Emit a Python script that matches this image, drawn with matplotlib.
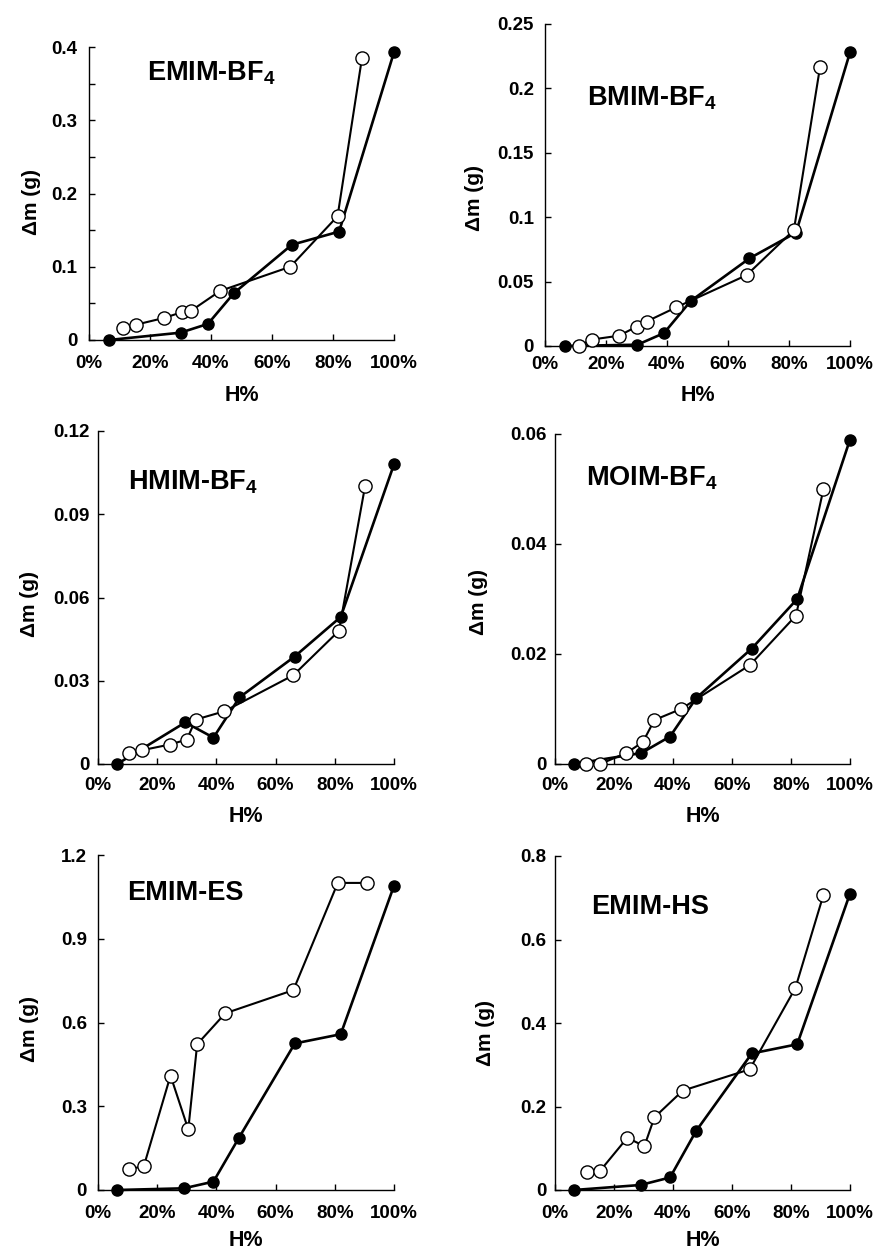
import matplotlib
matplotlib.use('Agg')
import matplotlib.pyplot as plt
from matplotlib.ticker import MultipleLocator

plt.rcParams['font.family'] = ['Liberation Sans', 'DejaVu Sans']
plt.rcParams['font.weight'] = 'bold'
plt.rcParams['mathtext.fontset'] = 'custom'
plt.rcParams['mathtext.bf'] = 'Liberation Sans:bold'
plt.rcParams['mathtext.rm'] = 'Liberation Sans:bold'
plt.rcParams['mathtext.default'] = 'bf'

# ---------------- data ----------------
xtick_vals = [0, 20, 40, 60, 80, 100]
xtick_labels = ['0%', '20%', '40%', '60%', '80%', '100%']
xlabel_text = 'H%'
ylabel_text = '\u0394m (g)'

titles = [r'EMIM-BF$_4$', r'BMIM-BF$_4$', r'HMIM-BF$_4$',
          r'MOIM-BF$_4$', 'EMIM-ES', 'EMIM-HS']

# EMIM-BF4
emim_bf4_filled_h = [6.5, 30, 39, 47.5, 66.5, 82, 100]
emim_bf4_filled_m = [0, 0.010, 0.022, 0.064, 0.130, 0.148, 0.393]
emim_bf4_open_h = [11, 15.5, 24.5, 30.5, 33.5, 43, 66, 81.5, 89.5]
emim_bf4_open_m = [0.016, 0.021, 0.030, 0.038, 0.040, 0.067, 0.100, 0.169, 0.385]

# BMIM-BF4
bmim_bf4_filled_h = [6.5, 30.3, 39, 47.8, 67, 82.3, 100]
bmim_bf4_filled_m = [0, 0.001, 0.010, 0.035, 0.068, 0.088, 0.228]
bmim_bf4_open_h = [11, 15.3, 24.3, 30, 33.3, 43, 66.1, 81.6, 90.2]
bmim_bf4_open_m = [0, 0.005, 0.008, 0.015, 0.019, 0.030, 0.055, 0.090, 0.217]

# HMIM-BF4
hmim_bf4_filled_h = [6.5, 29.5, 39, 47.8, 66.4, 82, 100]
hmim_bf4_filled_m = [0, 0.015, 0.0095, 0.024, 0.0387, 0.053, 0.108]
hmim_bf4_open_h = [10.4, 15, 24.2, 30, 33, 42.7, 66, 81.4, 90.2]
hmim_bf4_open_m = [0.004, 0.005, 0.007, 0.0088, 0.016, 0.019, 0.032, 0.048, 0.100]

# MOIM-BF4
moim_bf4_filled_h = [6.4, 29.3, 39, 47.9, 66.7, 82.1, 100]
moim_bf4_filled_m = [0, 0.002, 0.005, 0.012, 0.021, 0.030, 0.059]
moim_bf4_open_h = [10.6, 15.3, 24.2, 29.8, 33.7, 42.7, 66.1, 81.7, 91]
moim_bf4_open_m = [0, 0, 0.002, 0.004, 0.008, 0.010, 0.018, 0.027, 0.050]

# EMIM-ES
emim_es_filled_h = [6.5, 29, 39, 47.5, 66.5, 82, 100]
emim_es_filled_m = [0, 0.006, 0.03, 0.185, 0.525, 0.558, 1.09]
emim_es_open_h = [10.5, 15.5, 24.5, 30.5, 33.5, 43, 66, 81, 91]
emim_es_open_m = [0.074, 0.086, 0.41, 0.217, 0.522, 0.633, 0.716, 1.10, 1.10]

# EMIM-HS
emim_hs_filled_h = [6.5, 29, 39, 47.8, 66.7, 82.1, 100]
emim_hs_filled_m = [0, 0.012, 0.030, 0.141, 0.327, 0.349, 0.71]
emim_hs_open_h = [10.7, 15.3, 24.5, 30.3, 33.7, 43.3, 66, 81.5, 91]
emim_hs_open_m = [0.043, 0.046, 0.125, 0.105, 0.174, 0.238, 0.289, 0.484, 0.707]

ytick_vals = [
    [0, 0.1, 0.2, 0.3, 0.4],
    [0, 0.05, 0.1, 0.15, 0.2, 0.25],
    [0, 0.03, 0.06, 0.09, 0.12],
    [0, 0.02, 0.04, 0.06],
    [0, 0.3, 0.6, 0.9, 1.2],
    [0, 0.2, 0.4, 0.6, 0.8],
]
ytick_labels = [
    ['0', '0.1', '0.2', '0.3', '0.4'],
    ['0', '0.05', '0.1', '0.15', '0.2', '0.25'],
    ['0', '0.03', '0.06', '0.09', '0.12'],
    ['0', '0.02', '0.04', '0.06'],
    ['0', '0.3', '0.6', '0.9', '1.2'],
    ['0', '0.2', '0.4', '0.6', '0.8'],
]

filled_series = [
    (emim_bf4_filled_h, emim_bf4_filled_m),
    (bmim_bf4_filled_h, bmim_bf4_filled_m),
    (hmim_bf4_filled_h, hmim_bf4_filled_m),
    (moim_bf4_filled_h, moim_bf4_filled_m),
    (emim_es_filled_h, emim_es_filled_m),
    (emim_hs_filled_h, emim_hs_filled_m),
]
open_series = [
    (emim_bf4_open_h, emim_bf4_open_m),
    (bmim_bf4_open_h, bmim_bf4_open_m),
    (hmim_bf4_open_h, hmim_bf4_open_m),
    (moim_bf4_open_h, moim_bf4_open_m),
    (emim_es_open_h, emim_es_open_m),
    (emim_hs_open_h, emim_hs_open_m),
]

# ---------------- layout (pixels) ----------------
W, H = 876, 1253
# left, right, top, bottom of each axes box in pixels
boxes = [
    (89, 394, 47, 340),
    (545, 850, 24, 346),
    (98, 394, 431, 764),
    (555, 850, 434, 764),
    (98, 394, 855, 1190),
    (555, 850, 856, 1190),
]
title_pos = [(0.19, 0.887), (0.138, 0.748), (0.10, 0.823),
             (0.105, 0.845), (0.10, 0.866), (0.122, 0.826)]
ylabel_pos = [(-0.19, 0.47), (-0.23, 0.46), (-0.23, 0.48),
              (-0.26, 0.49), (-0.23, 0.48), (-0.234, 0.47)]
xtick_pad = [11, 7.5, 9, 9, 11, 11]
ytick_pad = [8.5, 8, 6, 6, 8, 6]
xlabel_y = [396, 396, 816, 816, 1241, 1241]

fig = plt.figure(figsize=(W / 100, H / 100), dpi=100)

for i in range(6):
    l, r, t, b = boxes[i]
    ax = fig.add_axes([l / W, 1 - b / H, (r - l) / W, (b - t) / H])
    fx, fy = filled_series[i]
    ox, oy = open_series[i]
    ax.plot(fx, fy, color='black', lw=1.9, marker='o', ms=8,
            mfc='black', mec='black', zorder=3, clip_on=False)
    ax.plot(ox, oy, color='black', lw=1.5, marker='o', ms=9.5,
            mfc='white', mec='black', mew=1.0, zorder=4, clip_on=False)

    ax.set_xlim(0, 100)
    ax.set_ylim(ytick_vals[i][0], ytick_vals[i][-1])
    ax.set_xticks(xtick_vals)
    ax.set_xticklabels(xtick_labels)
    ax.set_yticks(ytick_vals[i])
    ax.set_yticklabels(ytick_labels[i])
    if i == 0:
        ax.yaxis.set_minor_locator(MultipleLocator(0.05))
        ax.tick_params(axis='y', which='minor', direction='in', length=4, width=1)

    for s in ['top', 'right']:
        ax.spines[s].set_visible(False)
    for s in ['left', 'bottom']:
        ax.spines[s].set_linewidth(1.0)
    ax.tick_params(axis='both', which='major', direction='in', length=4,
                   width=1, labelsize=13.5)
    ax.tick_params(axis='x', pad=xtick_pad[i])
    ax.tick_params(axis='y', pad=ytick_pad[i])
    for lab in ax.get_xticklabels() + ax.get_yticklabels():
        lab.set_fontweight('bold')

    tx, ty = title_pos[i]
    ax.text(tx, ty, titles[i], transform=ax.transAxes, ha='left',
            va='baseline', fontsize=19.5, fontweight='bold')
    yx, yy = ylabel_pos[i]
    ax.text(yx, yy, ylabel_text, transform=ax.transAxes, rotation=90,
            ha='center', va='center', fontsize=15, fontweight='bold')
    fig.text(((l + r) / 2) / W, 1 - xlabel_y[i] / H, xlabel_text,
             ha='center', va='center', fontsize=15.5, fontweight='bold')

fig.savefig('out.png', dpi=100)
